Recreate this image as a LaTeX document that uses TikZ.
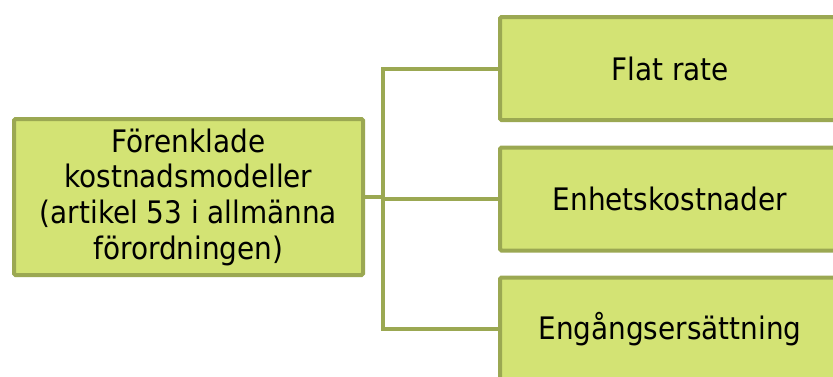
\documentclass[tikz,border=0pt]{standalone}
\usepackage{fontspec}
\setmainfont{DejaVu Sans Condensed}
\definecolor{boxfill}{RGB}{211,227,116}
\definecolor{boxline}{RGB}{155,168,82}
\begin{document}
\begin{tikzpicture}[x=1pt,y=-1pt,
  box/.style={draw=boxline,fill=boxfill,line width=4pt,rounded corners=1.5pt,inner sep=0pt,text=black,align=center},
  rbox/.style={box,minimum width=340pt,minimum height=103pt,font=\fontsize{31}{37}\selectfont},
  conn/.style={draw=boxline,line width=4pt}]
\useasboundingbox (0,0) rectangle (833,376);
\begin{scope}
\clip (0,0) rectangle (833,376);
\node[box,minimum width=349pt,minimum height=156pt,font=\fontsize{31}{35.7}\selectfont] (L) at (188.5,197) {Förenklade\\kostnadsmodeller\\(artikel 53 i allmänna\\förordningen)};
\node[rbox] (A) at (670,68.5) {Flat rate};
\node[rbox] (B) at (670,199) {Enhetskostnader};
\node[rbox] (C) at (670,329) {Engångsersättning};
\coordinate (J) at (383,197);
\draw[conn] (L.east) -- (J);
\draw[conn] (J) |- (A.west);
\draw[conn] (J) |- (C.west);
\draw[conn] (J) -- (J |- B.west) -- (B.west);
\end{scope}
\end{tikzpicture}
\end{document}
